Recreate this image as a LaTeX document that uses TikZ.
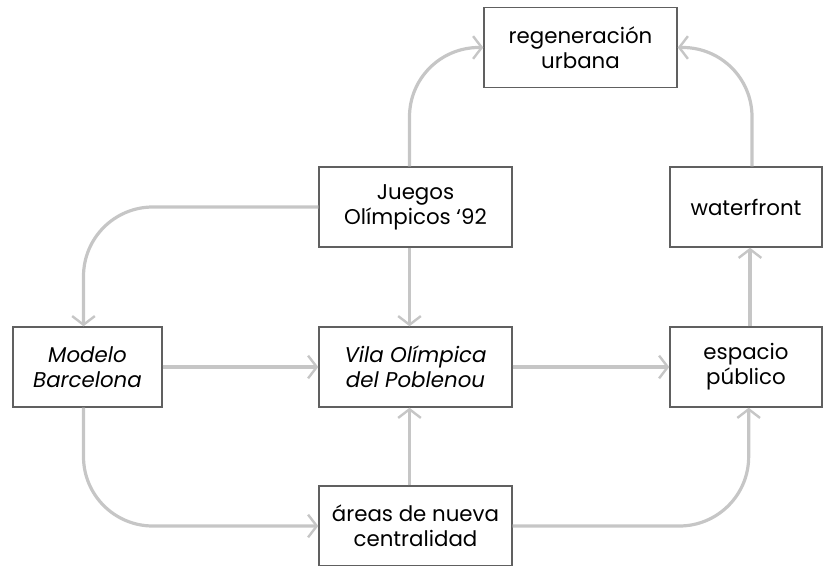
\documentclass[tikz,border=0pt]{standalone}
\usepackage{fontspec}
\setmainfont{Poppins}
\usetikzlibrary{arrows.meta}
\definecolor{connc}{HTML}{C6C6C6}
\definecolor{boxc}{HTML}{606060}
\begin{document}
\begin{tikzpicture}[x=0.75pt,y=-0.75pt,
  box/.style={draw=boxc,line width=1.1pt,fill=white,align=center,inner sep=0pt,minimum height=60pt,font=\fontsize{16}{18.75}\selectfont},
  conn/.style={draw=connc,line width=2.4pt,-{Straight Barb[length=6.5pt,width=17pt,line width=1.8pt]},rounded corners=52pt}]
\useasboundingbox (0,0) rectangle (823,566);
\node[box,minimum width=144.75pt] (regen) at (580.5,47.5) {regeneración\\urbana};
\node[box,minimum width=144.75pt] (juegos) at (415.5,207) {Juegos\\Olímpicos \symbol{"60}92};
\node[box,minimum width=114pt] (waterfront) at (746,207) {waterfront};
\node[box,minimum width=111.75pt] (modelo) at (87.5,367) {\itshape Modelo\\\itshape Barcelona};
\node[box,minimum width=144.75pt] (vila) at (415.5,367) {\itshape Vila Olímpica\\\itshape del Poblenou};
\node[box,minimum width=114pt] (espacio) at (746,367) {espacio\\público};
\node[box,minimum width=144.75pt] (areas) at (415.5,526) {áreas de nueva\\centralidad};
\draw[conn] ([xshift=-4.5pt]juegos.north) |- (regen.west);
\draw[conn] ([xshift=4.5pt]waterfront.north) |- (regen.east);
\draw[conn] (juegos.west) -| ([xshift=-3pt]modelo.north);
\draw[conn] ([xshift=-4.5pt]juegos.south) -- ([xshift=-4.5pt]vila.north);
\draw[conn] (modelo.east) -- (vila.west);
\draw[conn] (vila.east) -- (espacio.west);
\draw[conn] ([xshift=3pt]espacio.north) -- ([xshift=3pt]waterfront.south);
\draw[conn] ([xshift=-3pt]modelo.south) |- (areas.west);
\draw[conn] ([xshift=-4.5pt]areas.north) -- ([xshift=-4.5pt]vila.south);
\draw[conn] (areas.east) -| ([xshift=2pt]espacio.south);
\end{tikzpicture}
\end{document}
